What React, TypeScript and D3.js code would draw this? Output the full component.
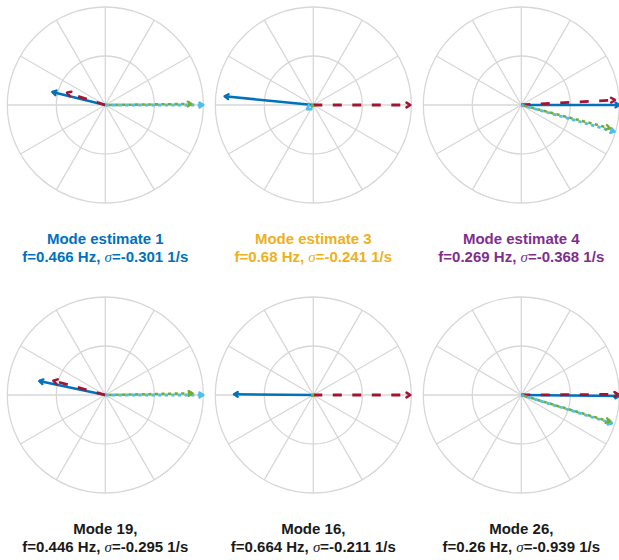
import React from "react";
import * as d3 from "d3";

// ---- data ----
const titleLine1 = ["Mode estimate 1", "Mode estimate 3", "Mode estimate 4", "Mode 19,", "Mode 16,", "Mode 26,"];
const freqs = ["0.466", "0.68", "0.269", "0.446", "0.664", "0.26"];
const sigmas = ["-0.301", "-0.241", "-0.368", "-0.295", "-0.211", "-0.939"];
const titleColors = ["#0072BD", "#EDB120", "#7E2F8E", "#1a1a1a", "#1a1a1a", "#1a1a1a"];

// per panel magnitude (normalized) and angle (degrees)
const blueMag = [0.557, 0.91, 1.0, 0.69, 0.81, 1.0];
const blueAng = [166.2, 174.4, 0, 168, 179.5, -0.6];
const redMag = [0.41, 0.99, 0.957, 0.55, 0.99, 0.99];
const redAng = [162.3, 0, 3.1, 164.6, 0, 0.4];
const lightBlueMag = [1.0, 0.078, 0.99, 1.0, 0.01, 0.97];
const lightBlueAng = [0, 214, -15.9, 0, 200, -17.3];
const greenMag = [0.88, 0.02, 0.936, 0.89, 0.015, 0.945];
const greenAng = [0.7, 225, -14.7, 1.1, 220, -16.75];

const rings = [0.5, 1];
const spokeAngles = d3.range(0, 360, 30);

// ---- layout ----
const W = 619;
const H = 560;
const R = 98;
const cx0 = 105.3;
const dx = 208;
const cy0 = 105;
const dy = 290;

const series = [
  { mag: blueMag, ang: blueAng, color: "#0072BD", width: 2.6, dash: undefined as string | undefined, offset: 0 },
  { mag: redMag, ang: redAng, color: "#A2142F", width: 2.8, dash: "9,10.5", offset: 0 },
  { mag: lightBlueMag, ang: lightBlueAng, color: "#4DBEEE", width: 2.8, dash: "3.3,3.3", offset: 0 },
  { mag: greenMag, ang: greenAng, color: "#77AC30", width: 2.6, dash: "3.3,3.3", offset: 3.3 },
];

const r = d3.scaleLinear().domain([0, 1]).range([0, R]);

function Arrow({ mag, ang, color, width, dash, offset }: any) {
  const len = r(mag);
  const a = (ang * Math.PI) / 180;
  const x = len * Math.cos(a);
  const y = -len * Math.sin(a);
  const hl = Math.min(4.5, len * 0.6);
  const spread = (32 * Math.PI) / 180;
  const back = a + Math.PI;
  const h1x = x + hl * Math.cos(back - spread);
  const h1y = y - hl * Math.sin(back - spread);
  const h2x = x + hl * Math.cos(back + spread);
  const h2y = y - hl * Math.sin(back + spread);
  const line = d3.line();
  return (
    <g>
      <path
        d={line([[0, 0], [x, y]]) || ""}
        stroke={color}
        strokeWidth={width}
        strokeDasharray={dash}
        strokeDashoffset={offset}
        fill="none"
      />
      <path
        d={line([[h1x, h1y], [x, y], [h2x, h2y]]) || ""}
        stroke={color}
        strokeWidth={width * 0.9}
        fill="none"
        strokeLinejoin="round"
        strokeLinecap="round"
      />
    </g>
  );
}

export default function App() {
  const font = "'Liberation Sans', Arial, Helvetica, sans-serif";
  return (
    <svg
      width={W}
      height={H}
      viewBox={`0 0 ${W} ${H}`}
      style={{ position: "absolute", left: 0, top: 0, display: "block", background: "#fff" }}
    >
      {titleLine1.map((t, i) => {
        const col = i % 3;
        const row = Math.floor(i / 3);
        const cx = cx0 + col * dx;
        const cy = cy0 + row * dy;
        return (
          <g key={i}>
            <g transform={`translate(${cx},${cy})`}>
              {rings.map((rv) => (
                <circle key={rv} r={r(rv)} fill="none" stroke="#d7d7d7" strokeWidth={1.3} />
              ))}
              {spokeAngles.map((sa) => {
                const a = (sa * Math.PI) / 180;
                return (
                  <line
                    key={sa}
                    x1={0}
                    y1={0}
                    x2={r(1) * Math.cos(a)}
                    y2={-r(1) * Math.sin(a)}
                    stroke="#d7d7d7"
                    strokeWidth={1.3}
                  />
                );
              })}
              {series.map((s, k) => (
                <Arrow
                  key={k}
                  mag={s.mag[i]}
                  ang={s.ang[i]}
                  color={s.color}
                  width={s.width}
                  dash={s.dash}
                  offset={s.offset}
                />
              ))}
            </g>
            <text
              x={cx}
              y={cy + 139}
              textAnchor="middle"
              fontFamily={font}
              fontWeight="bold"
              fontSize={15}
              fill={titleColors[i]}
            >
              {t}
            </text>
            <text
              x={cx}
              y={cy + 157}
              textAnchor="middle"
              fontFamily={font}
              fontWeight="bold"
              fontSize={15}
              fill={titleColors[i]}
            >
              {`f=${freqs[i]} Hz, `}
              <tspan fontFamily="'Liberation Serif', 'Times New Roman', serif" fontStyle="italic" fontWeight="normal">
                σ
              </tspan>
              {`=${sigmas[i]} 1/s`}
            </text>
          </g>
        );
      })}
    </svg>
  );
}
